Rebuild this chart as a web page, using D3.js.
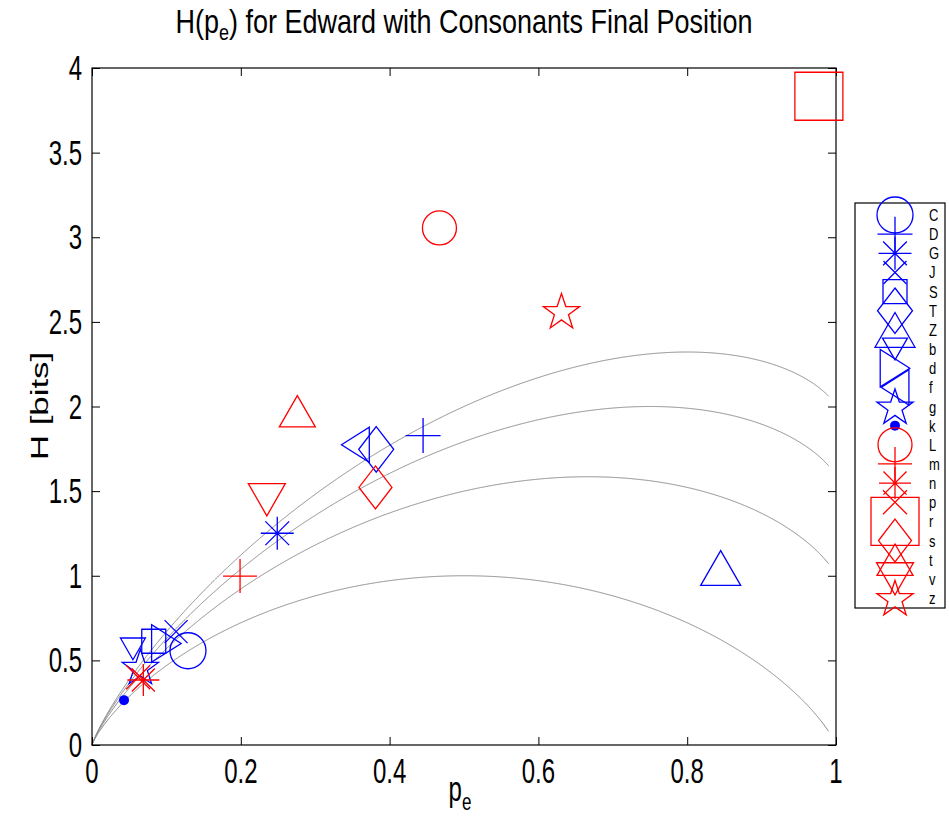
<!DOCTYPE html>
<meta charset="utf-8">
<style>
body { margin: 0; background: #fff; }
text { font-family: "Liberation Sans", Arial, Helvetica, sans-serif; fill: #000; }
</style>
<svg width="949" height="820"></svg>
<script src="https://d3js.org/d3.v7.min.js"></script>
<script>

// consonant symbols, their error probability and entropy
var labels = ["C","D","G","J","S","T","Z","b","d","f","g","k","L","m","n","p","r","s","t","v","z"];
var pe = [0.129,0.445,0.249,0.113,0.083,0.382,0.845,0.055,0.100,0.354,0.065,0.043,
          0.467,0.199,0.069,0.062,0.977,0.381,0.276,0.235,0.631];
var H = [0.557,1.828,1.251,0.670,0.613,1.747,1.046,0.568,0.600,1.774,0.462,0.265,
         3.055,0.998,0.384,0.400,3.833,1.522,1.972,1.449,2.564];
var markers = ["o","+","*","x","s","d","^","v",">","<","p",".",
               "o","+","*","x","s","d","^","v","p"];
var groups = ["blue","blue","blue","blue","blue","blue","blue","blue","blue","blue","blue","blue",
              "red","red","red","red","red","red","red","red","red"];

// alphabet sizes for the Fano bound curves
var alphabets = [2, 3, 4, 5];
var xTicks = [0, 0.2, 0.4, 0.6, 0.8, 1];
var yTicks = [0, 0.5, 1, 1.5, 2, 2.5, 3, 3.5, 4];

// marker sizes (px) as drawn
var msize = {C:36,D:35,G:33,J:23,S:24,T:35,Z:40,b:25,d:34,f:32,g:37,k:10,
             L:34,m:34,n:32,p:24,r:48,s:33,t:36,v:37,z:37};
var colour = {blue: "#0000ff", red: "#ff0000"};

var svg = d3.select("svg"),
    plotL = 92, plotR = 836, plotT = 68, plotB = 745;

var x = d3.scaleLinear().domain([0, 1]).range([plotL, plotR]);
var y = d3.scaleLinear().domain([0, 4]).range([plotB, plotT]);

// text helper; text in the original is drawn taller than wide
function label(px, py, str, size, anchor, rot, stretch) {
  stretch = stretch || 1.45;
  var g = svg.append("g")
    .attr("transform", "translate(" + px + "," + py + ") scale(1," + stretch + ")" + (rot ? " rotate(" + rot + ")" : ""));
  return g.append("text")
    .attr("text-anchor", anchor || "middle")
    .style("font-size", size + "px")
    .text(str);
}

// fano curves: H = h(p) + p log2(M-1)
var ps = d3.range(0, 991).map(function(i) { return i / 1000; });
function hb(p) {
  if (p <= 0 || p >= 1) return 0;
  return -p * Math.log2(p) - (1 - p) * Math.log2(1 - p);
}
var line = d3.line().x(function(d) { return x(d[0]); }).y(function(d) { return y(d[1]); });
alphabets.forEach(function(M) {
  svg.append("path")
    .attr("d", line(ps.map(function(p) { return [p, hb(p) + p * Math.log2(M - 1)]; })))
    .attr("fill", "none")
    .attr("stroke", "#8c8c8c")
    .attr("stroke-width", 1);
});

// axes with inward ticks on all sides, labels drawn separately
var tl = 8;
svg.append("g").attr("transform", "translate(0," + plotB + ")")
  .call(d3.axisBottom(x).tickValues(xTicks).tickSizeInner(-tl).tickSizeOuter(0).tickFormat(""));
svg.append("g").attr("transform", "translate(0," + plotT + ")")
  .call(d3.axisTop(x).tickValues(xTicks).tickSizeInner(-tl).tickSizeOuter(0).tickFormat(""));
svg.append("g").attr("transform", "translate(" + plotL + ",0)")
  .call(d3.axisLeft(y).tickValues(yTicks).tickSizeInner(-tl).tickSizeOuter(0).tickFormat(""));
svg.append("g").attr("transform", "translate(" + plotR + ",0)")
  .call(d3.axisRight(y).tickValues(yTicks).tickSizeInner(-tl).tickSizeOuter(0).tickFormat(""));
svg.selectAll(".domain").remove();
svg.selectAll(".tick line").attr("stroke", "#000");
svg.append("rect")
  .attr("x", plotL).attr("y", plotT).attr("width", plotR - plotL).attr("height", plotB - plotT)
  .attr("fill", "none").attr("stroke", "#000").attr("stroke-width", 1.2);

xTicks.forEach(function(t) { label(x(t), plotB + 38, String(t), 24, "middle"); });
yTicks.forEach(function(t) { label(plotL - 10, y(t) + 12, String(t), 24, "end"); });

// marker path, centred on 0,0
function markerPath(m, s) {
  var r = s / 2, p = d3.path();
  if (m == "o") { p.moveTo(r, 0); p.arc(0, 0, r, 0, 2 * Math.PI); }
  else if (m == "+") { p.moveTo(-r, 0); p.lineTo(r, 0); p.moveTo(0, -r); p.lineTo(0, r); }
  else if (m == "x") { p.moveTo(-r, -r); p.lineTo(r, r); p.moveTo(-r, r); p.lineTo(r, -r); }
  else if (m == "*") {
    p.moveTo(-r, 0); p.lineTo(r, 0); p.moveTo(0, -r); p.lineTo(0, r);
    var q = r * 0.72;
    p.moveTo(-q, -q); p.lineTo(q, q); p.moveTo(-q, q); p.lineTo(q, -q);
  }
  else if (m == "s") { p.rect(-r, -r, s, s); }
  else if (m == "d") {
    var h = r * 1.3;
    p.moveTo(0, -h); p.lineTo(r, 0); p.lineTo(0, h); p.lineTo(-r, 0); p.closePath();
  }
  else if (m == "^" || m == "v") {
    var hh = r * 0.87, sg = m == "^" ? 1 : -1;
    p.moveTo(0, -hh * sg); p.lineTo(r, hh * sg); p.lineTo(-r, hh * sg); p.closePath();
  }
  else if (m == ">" || m == "<") {
    var ww = r * 0.87, sx = m == ">" ? 1 : -1, rr = r * 1.1;
    p.moveTo(ww * sx, 0); p.lineTo(-ww * sx, -rr); p.lineTo(-ww * sx, rr); p.closePath();
  }
  else if (m == "p") {
    for (var i = 0; i < 10; i++) {
      var a = -Math.PI / 2 + i * Math.PI / 5, rad = i % 2 ? r * 0.4 : r * 1.03;
      var px = rad * Math.cos(a), py = rad * Math.sin(a) + r * 0.08;
      if (i == 0) p.moveTo(px, py); else p.lineTo(px, py);
    }
    p.closePath();
  }
  return p.toString();
}

function drawMarker(sel, i) {
  var c = colour[groups[i]];
  if (markers[i] == ".") {
    sel.append("circle").attr("r", msize[labels[i]] / 2).attr("fill", c);
  } else {
    sel.append("path")
      .attr("d", markerPath(markers[i], msize[labels[i]]))
      .attr("fill", "none")
      .attr("stroke", c)
      .attr("stroke-width", 1.3);
  }
}

// points
labels.forEach(function(l, i) {
  var g = svg.append("g").attr("transform", "translate(" + x(pe[i]) + "," + y(H[i]) + ")");
  drawMarker(g, i);
});

// legend
var leg = svg.append("g").attr("class", "legend");
leg.append("rect").attr("x", 855).attr("y", 203).attr("width", 90).attr("height", 405)
  .attr("fill", "#fff").attr("stroke", "#000").attr("stroke-width", 1.2);
labels.forEach(function(l, i) {
  var ly = 215 + i * 19.15;
  var g = leg.append("g").attr("transform", "translate(895," + ly + ")");
  drawMarker(g, i);
  label(929, ly + 6, l, 13, "start", 0, 1.25);
});

// title and axis labels
var title = label(464, 33, "", 27, "middle", 0, 1.2);
title.append("tspan").text("H(p");
title.append("tspan").attr("dy", 6).style("font-size", "18px").text("e");
title.append("tspan").attr("dy", -6).text(") for Edward with Consonants Final Position");

var xl = label(460, 801, "", 24, "middle");
xl.append("tspan").text("p");
xl.append("tspan").attr("dy", 6).style("font-size", "17px").text("e");

label(48, 406, "H [bits]", 24, "middle", -90);

</script>
